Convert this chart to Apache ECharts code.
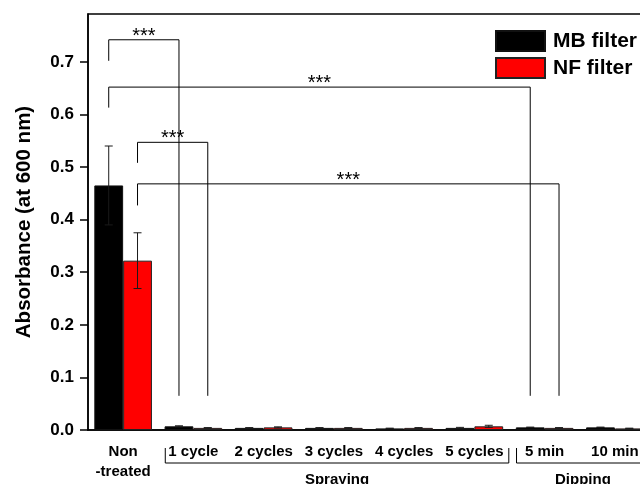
<!DOCTYPE html>
<html><head><meta charset="utf-8">
<script src="https://cdn.jsdelivr.net/npm/echarts@6/dist/echarts.min.js"></script>
<style>html,body{margin:0;padding:0;background:#fff}#c{width:640px;height:484px}</style>
</head><body><div id="c"></div>
<script>
var categories = ['Non\n-treated', '1 cycle', '2 cycles', '3 cycles', '4 cycles', '5 cycles', '5 min', '10 min'];
var mbValues = [0.465, 0.007, 0.004, 0.004, 0.003, 0.004, 0.005, 0.005];
var mbErrors = [0.075, 0.001, 0.0005, 0.0005, 0.0005, 0.001, 0.0005, 0.0005];
var nfValues = [0.322, 0.004, 0.005, 0.004, 0.004, 0.007, 0.004, 0.003];
var nfErrors = [0.053, 0.0005, 0.001, 0.0005, 0.0005, 0.002, 0.0005, 0.0005];
var yTicks = [0, 0.1, 0.2, 0.3, 0.4, 0.5, 0.6, 0.7];
// significance brackets: [fromCat, fromBar(0=MB,1=NF), legBottom, top, toCat, toBar, rightBottom, label]
var sigBrackets = [
  [0, 0, 0.702, 0.742, 1, 0, 0.065, '***'],
  [0, 0, 0.613, 0.652, 6, 0, 0.065, '***'],
  [0, 1, 0.508, 0.547, 1, 1, 0.065, '***'],
  [0, 1, 0.427, 0.468, 6, 1, 0.065, '***']
];
// groups under the axis: [firstCat, lastCat, name]
var groups = [[1, 5, 'Spraying'], [6, 7, 'Dipping']];

var FONT = 'Arial, "Liberation Sans", sans-serif';
var chart = echarts.init(document.getElementById('c'));
var BAR_FRAC = 0.41; // bar width as fraction of band

function errItem(values, errors, barIdx) {
  return values.map(function (v, i) { return [i, v, errors[i], barIdx]; });
}

var option = {
  animation: false,
  textStyle: { fontFamily: FONT },
  grid: { left: 88, width: 562, top: 14, bottom: 54, outerBoundsMode: 'none', containLabel: false,
          show: true, borderColor: '#000', borderWidth: 1.5, backgroundColor: 'transparent' },
  legend: {
    left: 490, top: 25, orient: 'vertical', itemWidth: 49, itemHeight: 20, itemGap: 5,
    icon: 'rect',
    textStyle: { fontSize: 21, fontWeight: 'bold', color: '#000', fontFamily: FONT, padding: [0, 0, 0, 3] },
    data: ['MB filter', 'NF filter']
  },
  xAxis: {
    type: 'category', data: categories,
    axisLine: { lineStyle: { color: '#000', width: 1.5 } },
    axisTick: { alignWithLabel: true, length: 8, lineStyle: { color: '#000', width: 1.5 } },
    axisLabel: { fontSize: 15, fontWeight: 'bold', color: '#000', margin: 12, lineHeight: 20, interval: 0, fontFamily: FONT },
    splitLine: { show: false }
  },
  yAxis: {
    type: 'value', min: 0, max: 0.791, interval: 0.1,
    name: 'Absorbance (at 600 nm)', nameLocation: 'middle', nameGap: 53,
    nameTextStyle: { fontSize: 20.5, fontWeight: 'bold', color: '#000', fontFamily: FONT },
    axisLine: { show: true, lineStyle: { color: '#000', width: 1.5 } },
    axisTick: { show: true, length: 8, customValues: yTicks, lineStyle: { color: '#000', width: 1.5 } },
    axisLabel: {
      fontSize: 17, fontWeight: 'bold', color: '#000', margin: 14, fontFamily: FONT,
      customValues: yTicks,
      formatter: function (v) { return v.toFixed(1); }
    },
    splitLine: { show: false }
  },
  series: [
    { name: 'MB filter', type: 'bar', data: mbValues, barGap: 0, barCategoryGap: '18%',
      itemStyle: { color: '#000', borderColor: '#111', borderWidth: 1 } },
    { name: 'NF filter', type: 'bar', data: nfValues, barGap: 0, barCategoryGap: '18%',
      itemStyle: { color: '#ff0000', borderColor: '#222', borderWidth: 1 } },
    { type: 'custom', name: 'err', z: 5, silent: true,
      data: errItem(mbValues, mbErrors, 0).concat(errItem(nfValues, nfErrors, 1)),
      renderItem: function (params, api) {
        var band = api.size([1, 0])[0];
        var c = api.coord([api.value(0), 0])[0];
        var x = c + (api.value(3) === 0 ? -1 : 1) * band * BAR_FRAC / 2;
        var v = api.value(1), e = api.value(2);
        var top = api.coord([api.value(0), v + e])[1];
        var bot = api.coord([api.value(0), v - e])[1];
        var s = { stroke: '#1a1a1a', lineWidth: 1 };
        return { type: 'group', children: [
          { type: 'line', shape: { x1: x, y1: top, x2: x, y2: bot }, style: s },
          { type: 'line', shape: { x1: x - 4, y1: top, x2: x + 4, y2: top }, style: s },
          { type: 'line', shape: { x1: x - 4, y1: bot, x2: x + 4, y2: bot }, style: s }
        ]};
      }
    },
    { type: 'custom', name: 'sig', z: 6, silent: true, clip: false,
      data: sigBrackets.map(function (b) { return [b[0], b[1], b[2], b[3], b[4], b[5], b[6]]; }),
      renderItem: function (params, api) {
        var b = sigBrackets[params.dataIndex];
        var band = api.size([1, 0])[0];
        var off = function (bar) { return (bar === 0 ? -1 : 1) * band * BAR_FRAC / 2; };
        var x1 = api.coord([b[0], 0])[0] + off(b[1]);
        var x2 = api.coord([b[4], 0])[0] + off(b[5]);
        var yl = api.coord([b[0], b[2]])[1];
        var yt = api.coord([b[0], b[3]])[1];
        var yr = api.coord([b[4], b[6]])[1];
        return { type: 'group', children: [
          { type: 'polyline', shape: { points: [[x1, yl], [x1, yt], [x2, yt], [x2, yr]] }, style: { stroke: '#000', lineWidth: 1, fill: null } },
          { type: 'text', x: (x1 + x2) / 2, y: yt - 3.5, style: { text: b[7], fontSize: 20, fontFamily: FONT, fill: '#000', align: 'center', verticalAlign: 'middle' } }
        ]};
      }
    },
    { type: 'custom', name: 'groups', z: 6, silent: true, clip: false,
      data: groups.map(function (g) { return [g[0], g[1]]; }),
      renderItem: function (params, api) {
        var g = groups[params.dataIndex];
        var band = api.size([1, 0])[0];
        var y0 = api.coord([0, 0])[1];
        var xa = api.coord([g[0], 0])[0] - band * 0.40;
        var xb = api.coord([g[1], 0])[0] + band * 0.49;
        var ya = y0 + 33, yb = y0 + 18;
        return { type: 'group', children: [
          { type: 'polyline', shape: { points: [[xa, yb], [xa, ya], [xb, ya], [xb, yb]] }, style: { stroke: '#000', lineWidth: 1, fill: null } },
          { type: 'text', x: (xa + xb) / 2, y: ya + 9, style: { text: g[2], fontSize: 15, fontWeight: 'bold', fontFamily: FONT, fill: '#000', align: 'center', verticalAlign: 'top' } }
        ]};
      }
    }
  ]
};
chart.setOption(option);
</script></body></html>
